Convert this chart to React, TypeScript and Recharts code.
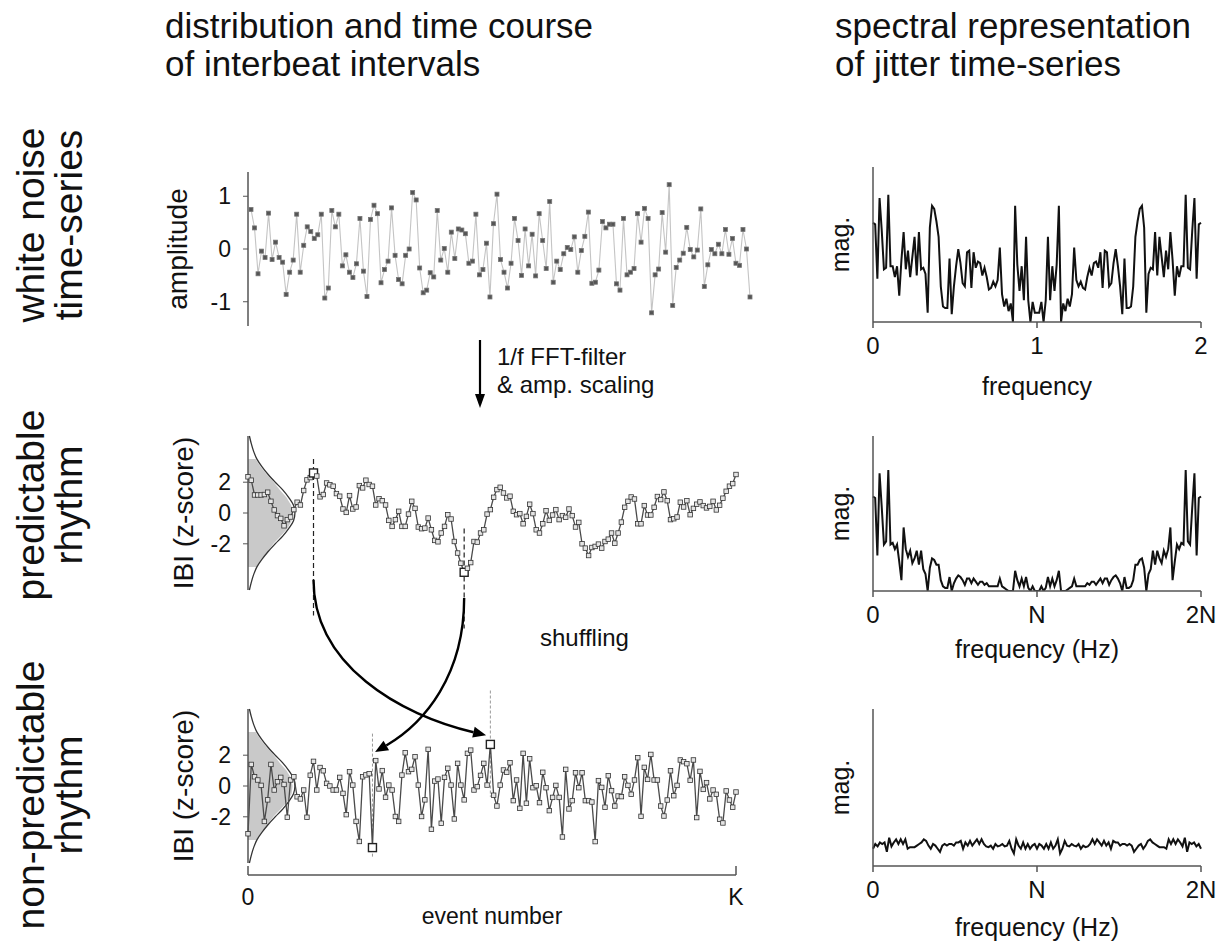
import React from 'react';
import { ComposedChart, Line, Area, XAxis, YAxis, ReferenceLine } from 'recharts';

const FONT = '"Liberation Sans", Arial, Helvetica, sans-serif';
const AXIS = '#555';
const INK = '#111';

// white noise time-series (amplitude)
const whiteNoise = [
  0.75, 0.4, -0.47, -0.04, -0.16, 0.68, -0.2, 0.13, -0.16, -0.25,
  -0.86, -0.44, -0.21, 0.66, -0.44, 0.07, 0.42, 0.33, 0.2, 0.27,
  0.66, -0.93, -0.74, 0.73, 0.42, 0.66, -0.32, -0.11, -0.44, -0.54,
  -0.28, 0.58, -0.42, -0.9, 0.56, 0.83, 0.67, -0.64, -0.39, -0.23,
  0.78, -0.12, -0.58, -0.66, -0.12, 0.0, 1.07, 0.93, -0.36, -0.83,
  -0.78, -0.45, -0.53, 0.73, -0.21, 0.01, -0.44, 0.32, -0.18, 0.38,
  0.36, 0.29, -0.27, -0.23, 0.66, -0.49, -0.39, 0.11, -0.91, 0.48,
  1.04, -0.2, -0.44, -0.74, -0.27, 0.58, 0.16, -0.5, 0.38, -0.32,
  0.28, -0.51, 0.67, 0.16, -0.37, 0.9, -0.63, -0.23, -0.39, -0.09,
  0.03, -0.01, 0.23, -0.44, -0.03, 0.24, 0.7, -0.65, -0.63, -0.4,
  0.52, 0.4, 0.47, 0.47, -0.66, -0.78, 0.58, -0.49, -0.44, -0.37,
  0.67, 0.13, 0.77, 0.58, -1.21, -0.49, -0.38, 0.69, -0.06, 1.22,
  -1.07, -0.35, -0.21, -0.08, 0.41, -0.01, -0.15, -0.02, 0.76, -0.71,
  -0.3, -0.01, -0.09, 0.09, -0.09, 0.37, -0.1, 0.2, -0.27, -0.31,
  0.37, 0.0, -0.91,
];

// predictable rhythm, IBI z-score
const predictable = [
  2.35, 2.13, 1.17, 1.17, 1.17, 1.2, 1.35, 0.76, 0.2, -0.17,
  -0.35, -0.83, -0.43, -0.26, 0.22, 0.7, 0.52, 1.46, 2.15, 2.3,
  2.6, 2.4, 1.05, 1.2, 1.95, 1.83, 1.74, 1.26, 1.09, 0.26,
  0.04, 1.13, 0.26, 0.39, 1.78, 1.63, 2.13, 1.85, 1.74, 0.52,
  0.93, 0.8, 0.52, -0.48, -0.87, -0.43, 0.11, -0.87, -0.87, -0.07,
  0.76, 0.3, -0.91, -1.02, -0.98, -0.33, -1.09, -1.78, -1.87, -1.3,
  -0.87, -0.11, -0.39, -1.85, -2.6, -3.26, -3.85, -3.59, -3.22, -1.85,
  -1.89, -1.3, -1.09, -0.07, 0.22, 1.02, 1.52, 1.67, 1.3, 0.98,
  1.09, 0.11, -0.11, -0.04, -0.7, -0.22, 0.57, -0.04, -1.09, -1.3,
  -0.7, 0.15, -0.48, -0.13, 0.22, -0.43, -0.17, -0.28, 0.26, -0.17,
  -0.91, -0.61, -2.0, -2.28, -2.76, -2.24, -2.17, -2.02, -2.28, -1.85,
  -1.7, -1.3, -1.96, -1.3, -0.59, 0.37, 0.76, 1.04, 0.91, -0.7,
  -0.7, 0.48, -0.13, -0.13, 0.37, 1.07, 0.87, 1.37, 0.8, -0.43,
  -0.37, -0.26, 0.7, 0.39, 0.8, -0.11, 0.3, 0.57, 0.72, 0.48,
  0.33, 0.43, 0.76, 0.2, 0.5, 0.96, 1.41, 1.74, 1.91, 2.5,
];

// non-predictable rhythm (shuffled), IBI z-score
const nonPredictable = [
  -3.1, 1.4, 0.6, 0.39, 0.04, -2.3, -0.9, 1.4, -0.26, 0.28,
  0.56, 0.1, -2.03, 0.39, 0.6, -0.7, -0.84, -0.26, -2.03, 0.7,
  1.6, -0.26, 1.2, 0.99, 0.17, 0.0, -0.26, -0.26, 0.56, -0.48,
  -1.86, 0.93, 0.06, -2.3, -3.6, 0.6, 0.72, 0.8, -4.0, 1.65,
  -0.19, 1.0, -0.73, 0.06, -0.26, -1.98, -2.3, 0.71, 2.16, 0.93,
  1.08, 1.9, 0.06, -1.98, -0.9, 2.38, -2.81, 0.32, 0.45, -2.42,
  0.56, 1.15, 0.06, -2.14, 1.47, 0.06, -0.9, 2.12, 2.33, -0.26,
  -0.04, 0.69, 1.47, 0.06, 2.7, -0.6, -1.3, 0.06, 1.04, 0.89,
  1.51, -0.95, 0.39, -1.45, 2.12, -1.12, 1.77, -0.11, 0.02, -1.08,
  0.89, -0.11, -1.6, -0.74, 0.04, -0.74, -3.31, 1.08, -1.49, -0.95,
  0.86, -0.11, 0.86, -0.95, -0.95, -1.04, -3.61, 0.35, -0.09, -1.38,
  0.67, -0.3, -1.3, -0.65, -0.69, 0.6, 0.04, -0.54, 0.39, 1.84,
  -1.97, 1.21, 0.43, 2.05, 0.39, 0.39, -1.3, -1.95, -0.91, 0.99,
  -0.63, 0.04, 1.69, 1.58, 1.45, 0.37, 1.69, -2.05, 0.95, -0.22,
  0.22, -0.84, -0.26, -0.54, -2.16, -2.4, -0.32, -0.91, -1.38, -0.39,
];

// the two events swapped by the shuffle
const predPeak = 20;
const predTrough = 66;
const shufPeak = 74;
const shufTrough = 38;

// distribution at the left of the IBI panels (relative density)
const distLevels = [-5, -4.5, -4, -3.5, -3, -2.5, -2, -1.5, -1, -0.5, 0, 0.5, 1, 1.5, 2, 2.5, 3, 3.5, 4, 4.5, 5];
const fitDensity = [0.03, 0.07, 0.12, 0.19, 0.3, 0.43, 0.58, 0.74, 0.87, 0.97, 1, 0.97, 0.87, 0.74, 0.58, 0.43, 0.3, 0.19, 0.12, 0.07, 0.03];
const histDensity = [null, null, null, 0.16, 0.27, 0.4, 0.55, 0.68, 0.82, 0.92, 0.95, 0.93, 0.84, 0.7, 0.54, 0.42, 0.28, 0.18, null, null, null];

// magnitude spectra (0 = axis bottom, 100 = axis top)
const specWhite = [
  64, 63, 28, 80, 59, 34, 35, 82, 36, 36, 29, 36, 17, 40, 58, 34, 46, 29, 42, 55,
  30, 58, 34, 35, 31, 6, 61, 75, 73, 65, 55, 23, 10, 9, 9, 41, 5, 23, 36, 47,
  38, 25, 23, 45, 46, 22, 45, 35, 39, 38, 30, 35, 29, 21, 22, 26, 23, 27, 48, 18,
  10, 15, 7, 12, 0, 75, 37, 20, 36, 14, 55, 14, 0, 13, 6, 6,
  6, 13, 0, 14, 55, 14, 36, 20, 37, 75, 0, 12, 7, 15, 10, 18, 48, 27, 23, 26,
  22, 21, 29, 35, 30, 38, 39, 35, 45, 22, 46, 45, 23, 25, 38, 47, 36, 23, 5, 41,
  9, 9, 10, 23, 55, 65, 73, 75, 61, 6, 31, 35, 34, 58, 30, 55, 42, 29, 46, 34,
  58, 40, 17, 36, 29, 36, 36, 82, 35, 34, 59, 80, 28, 63, 64,
];
const specPred = [
  61, 60, 23, 76, 54, 30, 32, 78, 30, 31, 27, 30, 19, 7, 41, 27, 22, 26, 18, 21,
  26, 17, 26, 14, 11, 0, 15, 21, 20, 17, 17, 7, 3, 2, 2, 9, 0, 5, 8, 10,
  9, 7, 4, 8, 8, 5, 8, 6, 4, 6, 6, 4, 5, 3, 3, 3, 3, 3, 8, 3,
  2, 1, 0, 0, 0, 13, 7, 3, 8, 3, 9, 2, 0, 3, 0, 0,
  0, 3, 0, 2, 9, 3, 8, 3, 7, 13, 0, 0, 0, 1, 2, 3, 8, 3, 3, 3,
  3, 3, 5, 4, 6, 6, 4, 6, 8, 5, 8, 8, 4, 7, 9, 10, 8, 5, 0, 9,
  2, 2, 3, 7, 17, 17, 20, 21, 15, 0, 11, 14, 26, 17, 26, 21, 18, 26, 22, 27,
  41, 7, 19, 30, 27, 31, 30, 78, 32, 30, 54, 76, 23, 60, 61,
];
const specNonPred = [
  11, 14, 12.5, 15, 14, 15, 9, 18, 12.5, 15, 17, 14, 17, 14, 17, 11, 12, 12, 12, 13,
  14, 15, 17, 16, 13, 11, 14, 13, 11, 9, 13, 14, 13, 14, 14, 13, 15, 15, 16, 11,
  15, 13, 16, 13, 15, 17, 14, 17, 14, 12.5, 12, 13, 11, 14, 12.5, 13, 14, 12.5, 13, 16,
  11, 8, 17, 13, 11, 15, 11, 14, 11, 13, 14, 11,
  14, 13, 11, 14, 11, 15, 11, 13, 17, 8, 11, 16, 13, 12.5, 14, 13, 12.5, 14, 11, 13,
  12, 12.5, 14, 17, 14, 17, 15, 13, 16, 13, 15, 11, 16, 15, 15, 13, 14, 14, 13, 14,
  13, 9, 11, 13, 14, 11, 13, 16, 17, 15, 14, 13, 12, 12, 12, 11, 17, 14, 17, 14,
  17, 15, 12.5, 18, 9, 15, 14, 15, 12.5, 14, 11,
];

const ampTicks = [-1, 0, 1];
const zTicks = [-2, 0, 2];
const freqLabels = ['0', '1', '2'];
const hzLabels = ['0', 'N', '2N'];
const eventLabels = ['0', 'K'];

const toRows = (arr: number[]) => arr.map((v, i) => ({ i, v }));
const whiteRows = toRows(whiteNoise);
const predRows = toRows(predictable);
const nonPredRows = toRows(nonPredictable);
const distRows = distLevels.map((v, k) => ({ v, fit: fitDensity[k], hist: histDensity[k] }));

const squareDot = (size: number, fill: string, stroke: string, marked: number[] = []) => (p: any) => {
  const { cx, cy, index } = p;
  if (cx == null || cy == null) return <g key={`n${index}`} />;
  if (marked.includes(index)) {
    return <rect key={`m${index}`} x={cx - 4} y={cy - 4} width={8} height={8} fill="#fff" stroke="#222" strokeWidth={1.4} />;
  }
  const h = size / 2;
  return <rect key={`d${index}`} x={cx - h} y={cy - h} width={size} height={size} fill={fill} stroke={stroke} strokeWidth={0.8} />;
};

// curved arrow drawn between the two segment ends (pixel coords given by the chart)
const curvedArrow = (a: number, b: number, c: number) => (p: any) => {
  const { x1, y1, x2, y2 } = p;
  const c1x = x1;
  const c1y = y1 + a * (y2 - y1);
  const c2x = x2 - b * (x2 - x1);
  const c2y = y2 - c * (y2 - y1);
  const ang = Math.atan2(y2 - c2y, x2 - c2x);
  const L = 13;
  const W = 5.5;
  const bx = x2 - L * Math.cos(ang);
  const by = y2 - L * Math.sin(ang);
  const head = `${x2},${y2} ${bx - W * Math.sin(ang)},${by + W * Math.cos(ang)} ${bx + W * Math.sin(ang)},${by - W * Math.cos(ang)}`;
  return (
    <g>
      <path d={`M${x1},${y1} C${c1x},${c1y} ${c2x},${c2y} ${bx},${by}`} fill="none" stroke="#000" strokeWidth={2.4} />
      <polygon points={head} fill="#000" />
    </g>
  );
};

const zAxisProps = {
  type: 'number' as const,
  domain: [-5, 5],
  ticks: zTicks,
  interval: 0,
  width: 130,
  allowDataOverflow: true,
  axisLine: { stroke: AXIS, strokeWidth: 1.5 },
  tickLine: { stroke: AXIS },
  tickSize: 5,
  tickMargin: 12,
  tick: { fill: INK, fontSize: 23 },
  label: { value: 'IBI (z-score)', angle: -90, position: 'center', fill: INK, fontSize: 28 },
};

const DistOverlay = ({ top, height, margin }: { top: number; height: number; margin: any }) => (
  <div style={{ position: 'absolute', left: 118, top }}>
    <ComposedChart layout="vertical" width={623} height={height} data={distRows} margin={{ ...margin, left: 130 }}>
      <XAxis type="number" domain={[0, 10.4]} hide allowDataOverflow />
      <YAxis type="number" dataKey="v" domain={[-5, 5]} hide />
      <Area dataKey="hist" type="linear" fill="#c9c9c9" fillOpacity={1} stroke="none" isAnimationActive={false} />
      <Line dataKey="fit" type="monotone" stroke="#333" strokeWidth={1.3} dot={false} isAnimationActive={false} />
    </ComposedChart>
  </div>
);

const Spectrum = ({ data, top, height, labels, title, labelOffset }: any) => {
  const n = data.length;
  const ticks = [0, (n - 1) / 2, n - 1];
  return (
    <div style={{ position: 'absolute', left: 807, top }}>
      <ComposedChart width={418} height={height} data={toRows(data)} margin={{ top: 12, right: 24, bottom: 0, left: 0 }}>
        <XAxis
          dataKey="i" type="number" domain={[0, n - 1]} ticks={ticks} interval={0}
          tickFormatter={(val: number) => labels[ticks.indexOf(val)]}
          height={80} axisLine={{ stroke: AXIS, strokeWidth: 1.5 }} tickLine={{ stroke: AXIS, strokeWidth: 1.5 }}
          tickSize={6} tickMargin={9} tick={{ fill: INK, fontSize: 24 }}
          label={{ value: title, position: 'insideBottom', offset: labelOffset, fill: INK, fontSize: 25 }}
        />
        <YAxis
          type="number" domain={[0, 100]} width={66} tick={false} tickLine={false}
          axisLine={{ stroke: AXIS, strokeWidth: 1.5 }} allowDataOverflow
          label={{ value: 'mag.', angle: -90, position: 'center', fill: INK, fontSize: 25 }}
        />
        <Line dataKey="v" type="linear" stroke="#111" strokeWidth={2} dot={false} isAnimationActive={false} />
      </ComposedChart>
    </div>
  );
};

const eventTicks = [0, nonPredictable.length - 1];
const bracketTick = (p: any) => {
  const { x, y, payload } = p;
  return (
    <g>
      <line x1={x} x2={x} y1={y} y2={y - 9} stroke={AXIS} strokeWidth={1.5} />
      <text x={x} y={y + 30} textAnchor="middle" fill={INK} fontSize={23}>
        {eventLabels[eventTicks.indexOf(payload.value)]}
      </text>
    </g>
  );
};

const rowLabels = [
  { lines: ['white noise', 'time-series'], cy: 225 },
  { lines: ['predictable', 'rhythm'], cy: 505 },
  { lines: ['non-predictable', 'rhythm'], cy: 795 },
];

export default function App() {
  return (
    <div style={{ position: 'absolute', left: 0, top: 0, width: 1225, height: 949, background: '#fff', fontFamily: FONT, overflow: 'hidden' }}>
      {/* white noise time-series */}
      <div style={{ position: 'absolute', left: 106, top: 160 }}>
        <ComposedChart width={649} height={170} data={whiteRows} margin={{ top: 12, right: 5, bottom: 4, left: 0 }}>
          <XAxis dataKey="i" type="number" domain={[0, whiteNoise.length - 1]} hide padding={{ left: 3, right: 0 }} />
          <YAxis
            type="number" domain={[-1.46, 1.46]} ticks={ampTicks} interval={0} width={142} allowDataOverflow
            axisLine={{ stroke: AXIS, strokeWidth: 1.5 }} tickLine={{ stroke: AXIS }} tickSize={5} tickMargin={12}
            tick={{ fill: INK, fontSize: 23 }}
            label={{ value: 'amplitude', angle: -90, position: 'center', fill: INK, fontSize: 28 }}
          />
          <Line dataKey="v" type="linear" stroke="#c4c4c4" strokeWidth={1.1} dot={squareDot(4, '#555', '#777')} isAnimationActive={false} />
        </ComposedChart>
      </div>

      {/* predictable rhythm */}
      <DistOverlay top={420} height={215} margin={{ top: 16, right: 5, bottom: 45 }} />
      <div style={{ position: 'absolute', left: 118, top: 420 }}>
        <ComposedChart width={623} height={215} data={predRows} margin={{ top: 16, right: 5, bottom: 45, left: 0 }}>
          <XAxis dataKey="i" type="number" domain={[0, predictable.length - 1]} hide />
          <YAxis {...(zAxisProps as any)} />
          <ReferenceLine ifOverflow="visible" segment={[{ x: predPeak, y: 3.5 }, { x: predPeak, y: -6.65 }]} stroke="#222" strokeWidth={1.2} strokeDasharray="5 3" />
          <ReferenceLine ifOverflow="visible" segment={[{ x: predTrough, y: -1 }, { x: predTrough, y: -7.5 }]} stroke="#222" strokeWidth={1.2} strokeDasharray="5 3" />
          <Line dataKey="v" type="linear" stroke="#4a4a4a" strokeWidth={1.3} dot={squareDot(4.5, '#e4e4e4', '#333', [predPeak, predTrough])} isAnimationActive={false} />
        </ComposedChart>
      </div>

      {/* non-predictable rhythm */}
      <DistOverlay top={570} height={303} margin={{ top: 139, right: 5, bottom: 10 }} />
      <div style={{ position: 'absolute', left: 118, top: 570 }}>
        <ComposedChart width={623} height={303} data={nonPredRows} margin={{ top: 139, right: 5, bottom: 10, left: 0 }}>
          <XAxis dataKey="i" type="number" domain={[0, nonPredictable.length - 1]} hide />
          <YAxis {...(zAxisProps as any)} />
          <ReferenceLine ifOverflow="visible" segment={[{ x: shufTrough, y: 3.4 }, { x: shufTrough, y: -4.7 }]} stroke="#999" strokeWidth={1} strokeDasharray="3 2" />
          <ReferenceLine ifOverflow="visible" segment={[{ x: shufPeak, y: 6.2 }, { x: shufPeak, y: -0.7 }]} stroke="#999" strokeWidth={1} strokeDasharray="3 2" />
          <ReferenceLine ifOverflow="visible" segment={[{ x: predPeak, y: 13.4 }, { x: shufPeak - 1.3, y: 3.3 }]} shape={curvedArrow(0.55, 0.5, 0.13)} />
          <ReferenceLine ifOverflow="visible" segment={[{ x: predTrough, y: 12.2 }, { x: shufTrough + 0.8, y: 2.2 }]} shape={curvedArrow(0.5, 0.56, 0.19)} />
          <Line dataKey="v" type="linear" stroke="#4a4a4a" strokeWidth={1.3} dot={squareDot(4.5, '#e4e4e4', '#333', [shufPeak, shufTrough])} isAnimationActive={false} />
        </ComposedChart>
      </div>

      {/* event number axis */}
      <div style={{ position: 'absolute', left: 118, top: 866 }}>
        <ComposedChart width={653} height={69} data={nonPredRows} margin={{ top: 0, right: 35, bottom: 0, left: 130 }}>
          <XAxis
            dataKey="i" type="number" domain={[0, nonPredictable.length - 1]} ticks={eventTicks} interval={0}
            height={60} axisLine={{ stroke: AXIS, strokeWidth: 1.5 }} tickLine={false} tickSize={0} tickMargin={0}
            tick={bracketTick}
            label={{ value: 'event number', position: 'insideBottom', offset: 11, fill: INK, fontSize: 23 }}
          />
          <YAxis type="number" domain={[-5, 5]} hide />
          <Line dataKey="v" stroke="none" dot={false} isAnimationActive={false} />
        </ComposedChart>
      </div>

      {/* spectra */}
      <Spectrum data={specWhite} top={155} height={247} labels={freqLabels} title="frequency" labelOffset={7} />
      <Spectrum data={specPred} top={424} height={247} labels={hzLabels} title="frequency (Hz)" labelOffset={13} />
      <Spectrum data={specNonPred} top={697} height={249} labels={hzLabels} title="frequency (Hz)" labelOffset={10} />

      {/* titles and annotations */}
      <svg width={1225} height={949} style={{ position: 'absolute', left: 0, top: 0, pointerEvents: 'none' }} fontFamily={FONT}>
        <text x={165} y={38} fontSize={35} fill={INK}>distribution and time course</text>
        <text x={165} y={76} fontSize={35} fill={INK}>of interbeat intervals</text>
        <text x={835} y={38} fontSize={35} fill={INK}>spectral representation</text>
        <text x={835} y={76} fontSize={35} fill={INK}>of jitter time-series</text>
        {rowLabels.map((r) =>
          r.lines.map((t, k) => (
            <text key={t + r.cy} transform={`translate(${44 + k * 38}, ${r.cy}) rotate(-90)`} textAnchor="middle" fontSize={39} fill={INK}>
              {t}
            </text>
          ))
        )}
        <line x1={480} y1={340} x2={480} y2={396} stroke="#000" strokeWidth={2.2} />
        <polygon points="480,408 475,394 485,394" fill="#000" />
        <text x={497} y={365} fontSize={24} fill={INK}>1/f FFT-filter</text>
        <text x={497} y={393} fontSize={24} fill={INK}>{'& amp. scaling'}</text>
        <text x={540} y={646} fontSize={24} fill={INK}>shuffling</text>
      </svg>
    </div>
  );
}
